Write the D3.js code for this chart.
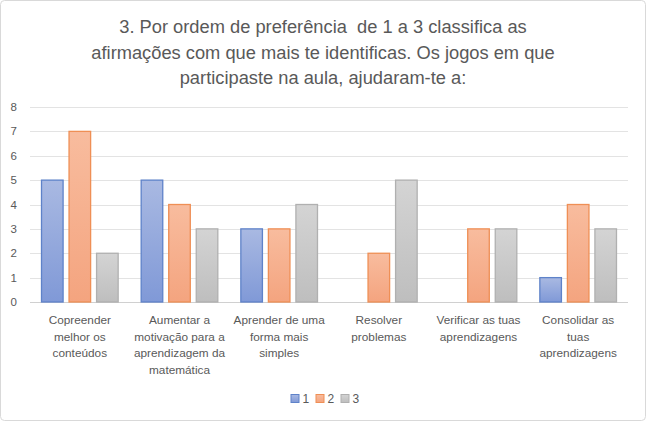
<!DOCTYPE html>
<html><head><meta charset="utf-8">
<script src="https://cdn.jsdelivr.net/npm/d3@7"></script>
<style>body{margin:0;background:#fff}svg{display:block}</style>
</head><body>
<svg id="c" width="646" height="421"></svg>
<script>
const titleLines = ["3. Por ordem de preferência  de 1 a 3 classifica as","afirmações com que mais te identificas. Os jogos em que","participaste na aula, ajudaram-te a:"];
const categories = [
  ["Copreender","melhor os","conteúdos"],
  ["Aumentar a","motivação para a","aprendizagem da","matemática"],
  ["Aprender de uma","forma mais","simples"],
  ["Resolver","problemas"],
  ["Verificar as tuas","aprendizagens"],
  ["Consolidar as","tuas","aprendizagens"]
];
const seriesNames = ["1","2","3"];
const series1 = [5,5,3,0,0,1];
const series2 = [7,4,3,2,3,4];
const series3 = [2,3,4,5,3,3];
const yTicks = [0,1,2,3,4,5,6,7,8];

const allSeries = [series1, series2, series3];
const fills = [["#a9b9e2","#8099d7"],["#f8bc9e","#f4a47f"],["#d4d4d4","#bebebe"]];
const strokes = ["#5e82c9","#ef8f55","#b0b0b0"];
const font = "'Liberation Sans', Arial, sans-serif";
const svg = d3.select("#c");
svg.append("rect").attr("x",0.5).attr("y",0.5).attr("width",645).attr("height",420).attr("rx",4).attr("fill","#fff").attr("stroke","#d9d9d9");

const defs = svg.append("defs");
fills.forEach((f,i)=>{
  const g = defs.append("linearGradient").attr("id","g"+i).attr("x1",0).attr("y1",0).attr("x2",0).attr("y2",1);
  g.append("stop").attr("offset","0%").attr("stop-color",f[0]);
  g.append("stop").attr("offset","100%").attr("stop-color",f[1]);
});

svg.append("text").attr("x",323).attr("font-family",font).attr("font-size",18.3).attr("fill","#595959").attr("text-anchor","middle")
  .style("white-space","pre")
  .selectAll("tspan").data(titleLines).join("tspan").attr("x",323).attr("y",(d,i)=>33+i*25.5).text(d=>d);

const x0 = d3.scaleBand().domain(d3.range(categories.length)).range([30,628]).paddingInner(0).paddingOuter(0);
const y = d3.scaleLinear().domain([0,8]).range([302,107]);
const x1 = d3.scaleBand().domain(d3.range(3)).range([0,x0.bandwidth()]).paddingInner(0.18).paddingOuter(0.4);

svg.append("g").selectAll("line").data(yTicks).join("line")
  .attr("x1",30).attr("x2",628).attr("y1",d=>Math.round(y(d))+0.5).attr("y2",d=>Math.round(y(d))+0.5)
  .attr("stroke",d=>d===0?"#d0d0d0":"#e3e3e3").attr("stroke-width",1);

svg.append("g").selectAll("text").data(yTicks).join("text")
  .attr("x",17).attr("y",d=>y(d)+4).attr("text-anchor","end").attr("font-family",font).attr("font-size",11.5).attr("fill","#595959").text(d=>d);

allSeries.forEach((s,si)=>{
  svg.append("g").selectAll("rect").data(s.map((v,i)=>({v,i})).filter(d=>d.v>0)).join("rect")
    .attr("x",d=>x0(d.i)+x1(si)+0.5).attr("width",x1.bandwidth()-1)
    .attr("y",d=>y(d.v)).attr("height",d=>y(0)-y(d.v))
    .attr("fill","url(#g"+si+")").attr("stroke",strokes[si]).attr("stroke-width",1.3);
});

const lab = svg.append("g");
categories.forEach((lines,i)=>{
  const cx = x0(i)+x0.bandwidth()/2;
  lab.append("text").attr("text-anchor","middle").attr("font-family",font).attr("font-size",11.8).attr("fill","#595959")
    .selectAll("tspan").data(lines).join("tspan").attr("x",cx).attr("y",(d,j)=>324+j*16.5).text(d=>d);
});

const leg = svg.append("g");
const legX = [291,316,341];
seriesNames.forEach((n,i)=>{
  leg.append("rect").attr("x",legX[i]).attr("y",394.5).attr("width",8).attr("height",8).attr("fill","url(#g"+i+")").attr("stroke",strokes[i]).attr("stroke-width",1);
  leg.append("text").attr("x",legX[i]+11.5).attr("y",403).attr("font-family",font).attr("font-size",12).attr("fill","#595959").text(n);
});
</script>
</body></html>
